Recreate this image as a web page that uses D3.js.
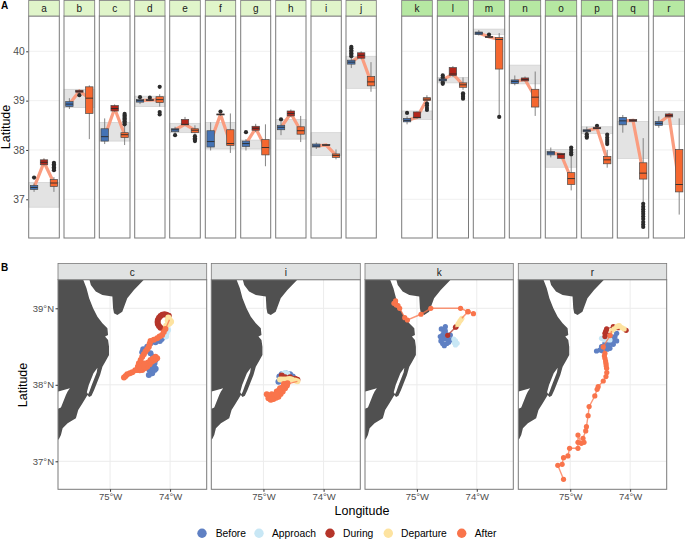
<!DOCTYPE html>
<html><head><meta charset="utf-8">
<script src="https://cdnjs.cloudflare.com/ajax/libs/d3/7.8.5/d3.min.js"></script>
<style>html,body{margin:0;padding:0;background:#fff}svg{display:block;font-family:"Liberation Sans",Arial,sans-serif}</style>
</head><body><div id="chart"></div>
<script>
// ---------- Panel A data: [whisker low, q1, median, q3, whisker high]
const stations=["a","b","c","d","e","f","g","h","i","j","k","l","m","n","o","p","q","r"];
const bandLow=[36.84,38.86,38.18,38.88,38.35,38.02,38.02,38.22,37.89,39.25,38.62,39.36,40.34,39.34,37.65,38.33,37.83,38.52];
const bandHigh=[37.34,39.23,38.56,39.09,38.54,38.56,38.2,38.62,38.35,39.9,38.79,39.47,40.45,39.72,38.01,38.47,38.58,38.78];
const beforeBox=[[37.15,37.2,37.24,37.28,37.32],[38.83,38.88,38.93,38.98,39.05],[38.12,38.18,38.27,38.43,38.64],[38.93,38.97,39,39.02,39.06],[38.34,38.37,38.41,38.43,38.47],[37.99,38.06,38.17,38.39,38.56],[37.99,38.07,38.13,38.18,38.22],[38.3,38.41,38.46,38.5,38.57],[38.02,38.06,38.08,38.12,38.15],[39.66,39.74,39.78,39.82,39.88],[38.52,38.57,38.6,38.64,38.68],[39.34,39.4,39.42,39.44,39.49],[40.32,40.34,40.37,40.39,40.43],[39.31,39.35,39.39,39.42,39.51],[37.85,37.9,37.94,37.97,38.05],[38.33,38.37,38.39,38.41,38.47],[38.35,38.51,38.59,38.66,38.71],[38.45,38.5,38.54,38.58,38.68]];
const duringBox=[[37.69,37.7,37.75,37.8,37.83],[39.16,39.17,39.19,39.21,39.22],[38.77,38.79,38.84,38.9,38.92],[38.99,39,39.01,39.02,39.03],[38.5,38.51,38.52,38.62,38.67],[38.69,38.71,38.72,38.73,38.74],[38.36,38.4,38.44,38.48,38.53],[38.67,38.69,38.74,38.79,38.82],[38.08,38.09,38.1,38.11,38.12],[39.84,39.86,39.92,39.97,40],[38.64,38.65,38.66,38.77,38.78],[39.48,39.51,39.54,39.67,39.7],[40.27,40.28,40.29,40.3,40.31],[39.39,39.4,39.43,39.46,39.49],[37.82,37.83,37.91,37.93,37.94],[38.42,38.43,38.44,38.46,38.47],[38.57,38.58,38.6,38.62,38.63],[38.66,38.67,38.7,38.73,38.75]];
const afterBox=[[37.15,37.26,37.33,37.4,37.45],[38.22,38.74,39.05,39.28,39.31],[38.1,38.25,38.31,38.35,38.5],[38.88,38.96,39.02,39.08,39.13],[38.33,38.35,38.4,38.43,38.5],[37.94,38.09,38.13,38.41,38.74],[37.67,37.9,38.05,38.21,38.52],[38.16,38.32,38.39,38.47,38.69],[37.81,37.85,37.89,37.92,38.01],[39.18,39.3,39.38,39.49,39.78],[38.96,39,39.03,39.06,39.11],[39.22,39.27,39.32,39.36,39.47],[38.67,39.64,40.24,40.28,40.37],[38.69,38.87,39.07,39.23,39.59],[37.18,37.3,37.42,37.54,37.87],[37.64,37.72,37.8,37.87,38],[36.94,37.41,37.53,37.74,38.24],[36.69,37.15,37.3,38.01,38.64]];
const beforeOut=[[37.44],[],[],[39.07],[38.3],[],[38.36],[38.62],[],[39.9,39.93,39.96,39.99,40.02,40.06,40.09],[38.75],[39.34,39.37,39.42,39.47,39.51],[],[],[],[38.25,38.28,38.32],[],[]];
const duringOut=[[],[39.11],[],[39.06],[],[38.78],[],[],[],[],[],[],[40.34],[],[],[38.49],[],[]];
const afterOut=[[37.59,37.62,37.65,37.68,37.71,37.74],[],[38.52,38.55,38.58,38.61,38.64,38.67,38.7,38.73],[39.28,38.72,38.77],[38.18,38.21,38.24,38.28],[],[],[],[],[],[38.81,38.85,38.9,38.94],[39.04,39.08,39.12,39.15],[38.67],[],[37.91,37.95,38,38.05],[38.12,38.16,38.2,38.25,38.31],[36.44,36.49,36.54,36.6,36.65,36.7,36.75,36.8,36.85,36.91],[]];
const latTicks=[37,38,39,40];
// panel edges of the strip row, read in page pixels
const panelLeft=[28.7,64,99.3,134.7,169.7,205.3,240.7,275.7,311,346,401.7,437.3,473.3,509.3,545.3,581.3,617.3,653.3];
const panelRight=[59.3,94.7,130,165,200.3,235.7,270.7,306,341.3,376.3,432.3,468.5,504.7,540.7,576.7,612.7,648.7,684.7];
const phasesA=["Before","During","After"];
const colorsA=["#4473b5","#b3261b","#f5672f"];

// ---------- Panel B data: lon / lat
const mapNames=["c","i","k","r"];
const mapLeft=[58,211.3,365,518.3];
const mapRight=[206.7,360.3,513.3,666.7];
const lonTicks=[-75,-74];
const mapLatTicks=[37,38,39];
const landMain=[[-75.47,39.42],[-75.392,39.261],[-75.348,39.131],[-75.282,39],[-75.21,38.891],[-75.127,38.804],[-75.044,38.739],[-75.033,38.651],[-75.083,38.63],[-75.033,38.586],[-75.017,38.499],[-75.017,38.39],[-75.072,38.312],[-75.127,38.237],[-75.166,38.129],[-75.265,37.932],[-75.309,37.858],[-75.348,37.841],[-75.376,37.867],[-75.459,37.758],[-75.53,37.671],[-75.569,37.562],[-75.707,37.497],[-75.79,37.431],[-75.818,37.344],[-75.851,37.292],[-76,37.2],[-76,39.45],[-75.47,39.45]];
const landNorth=[[-75.365,39.436],[-75.32,39.305],[-75.238,39.218],[-75.127,39.174],[-74.961,39.153],[-74.95,39],[-74.934,38.935],[-74.878,38.913],[-74.796,38.956],[-74.713,39.131],[-74.602,39.24],[-74.425,39.383],[-74.381,39.436]];
const waterSliver=[[-75.21,38.224],[-75.221,38.163],[-75.309,37.989],[-75.343,37.911],[-75.365,37.876],[-75.387,37.902],[-75.354,37.998],[-75.276,38.15]];
const waterBay=[[-75.95,37.911],[-75.862,37.911],[-75.669,37.954],[-75.707,37.911],[-75.735,37.867],[-75.818,37.702],[-75.873,37.684],[-75.95,37.684]];
const phases=["Before","Approach","During","Departure","After"];
const phaseColors=["#5f80c3","#c8e7f5","#b5352a","#fde3a0","#f9744b"];
const legendDotX=[202,259,330,388.3,461.7];
const legendTextX=[215.7,272,343,401,474.7];
const trackC=[
 [[-74.105,38.63],[-74.14,38.6],[-74.171,38.573],[-74.243,38.556],[-74.326,38.542],[-74.381,38.499],[-74.448,38.464],[-74.464,38.425],[-74.43,38.44],[-74.392,38.455],[-74.326,38.412],[-74.282,38.368],[-74.243,38.325],[-74.26,38.28],[-74.282,38.237],[-74.24,38.21],[-74.26,38.194],[-74.298,38.15],[-74.354,38.129],[-74.343,38.194],[-74.3,38.21],[-74.381,38.259],[-74.33,38.27]],
 [[-74.077,38.651],[-74.05,38.704],[-74.066,38.63],[-74.033,38.717],[-74.06,38.67]],
 [[-74.022,38.904],[-74.06,38.915],[-74.094,38.922],[-74.13,38.915],[-74.16,38.9],[-74.185,38.875],[-74.204,38.847],[-74.208,38.82],[-74.204,38.795],[-74.185,38.77],[-74.16,38.747],[-74.105,38.73]],
 [[-74.022,38.869],[-73.994,38.834],[-74.033,38.791],[-74.006,38.804],[-74.066,38.773],[-73.983,38.825],[-74.04,38.84],[-74.03,38.88],[-74.01,38.85]],
 [[-74.077,38.73],[-74.105,38.69],[-74.133,38.651],[-74.175,38.63],[-74.215,38.608],[-74.27,38.59],[-74.326,38.573],[-74.34,38.535],[-74.354,38.499],[-74.38,38.465],[-74.409,38.434],[-74.437,38.4],[-74.464,38.368],[-74.49,38.325],[-74.519,38.281],[-74.535,38.24],[-74.547,38.194],[-74.505,38.19],[-74.464,38.194],[-74.42,38.215],[-74.381,38.237],[-74.34,38.27],[-74.298,38.303],[-74.255,38.325],[-74.215,38.346],[-74.243,38.368],[-74.285,38.345],[-74.326,38.325],[-74.365,38.29],[-74.409,38.259],[-74.45,38.27],[-74.492,38.281],[-74.46,38.24],[-74.42,38.28],[-74.53,38.23],[-74.58,38.19],[-74.63,38.163],[-74.67,38.15],[-74.713,38.137],[-74.74,38.115],[-74.768,38.094]]
];
const trackI=[
 [[-74.751,38.041],[-74.735,38.107],[-74.696,38.137],[-74.63,38.15],[-74.558,38.137],[-74.514,38.107]],
 [[-74.641,38.155],[-74.602,38.14],[-74.669,38.14]],
 [[-74.696,38.12],[-74.641,38.1],[-74.558,38.1],[-74.475,38.08],[-74.436,38.065]],
 [[-74.724,38.07],[-74.69,38.07],[-74.65,38.07],[-74.602,38.072],[-74.565,38.075],[-74.53,38.07],[-74.475,38.055],[-74.436,38.045]],
 [[-74.624,38.007],[-74.669,37.976],[-74.696,37.932],[-74.751,37.889],[-74.807,37.867],[-74.862,37.876],[-74.945,37.876],[-74.917,37.824],[-74.89,37.85],[-74.88,37.805],[-74.834,37.815],[-74.79,37.83],[-74.751,37.845],[-74.715,37.88],[-74.68,37.911],[-74.641,37.954],[-74.61,37.99],[-74.6,38.02],[-74.66,38.01],[-74.724,37.954],[-74.69,37.96],[-74.779,37.911],[-74.74,37.93],[-74.83,37.86],[-74.862,37.845],[-74.78,37.87],[-74.92,37.86],[-74.86,37.81]]
];
const trackK=[
 [[-74.525,38.76],[-74.593,38.73],[-74.56,38.72],[-74.525,38.704],[-74.469,38.651],[-74.61,38.63],[-74.599,38.573],[-74.57,38.54],[-74.542,38.512],[-74.5,38.54],[-74.469,38.556],[-74.412,38.586],[-74.441,38.651],[-74.508,38.608],[-74.565,38.66],[-74.55,38.6],[-74.48,38.6],[-74.53,38.65],[-74.58,38.6]],
 [[-74.356,38.573],[-74.328,38.542],[-74.356,38.521],[-74.384,38.599],[-74.375,38.55]],
 [[-74.486,38.647],[-74.345,38.76],[-74.356,38.752]],
 [[-74.316,38.791],[-74.3,38.81],[-74.282,38.834],[-74.265,38.85],[-74.249,38.869]],
 [[-74.147,38.956],[-74.056,38.93],[-74.147,38.956],[-74.271,39],[-74.768,39],[-74.932,38.922],[-75.158,38.847],[-75.203,38.878],[-75.288,39],[-75.316,39.035],[-75.345,39.044],[-75.384,39.065],[-75.356,39.096]]
];
const trackR=[
 [[-74.225,38.673],[-74.253,38.63],[-74.225,38.573],[-74.281,38.529],[-74.337,38.477],[-74.38,38.465],[-74.421,38.455],[-74.465,38.445],[-74.506,38.455],[-74.562,38.442],[-74.478,38.499],[-74.421,38.542],[-74.337,38.573],[-74.393,38.512],[-74.44,38.5],[-74.3,38.56],[-74.36,38.53],[-74.28,38.6],[-74.4,38.48]],
 [[-74.478,38.608],[-74.421,38.586],[-74.37,38.59],[-74.337,38.586],[-74.449,38.6]],
 [[-74.337,38.651],[-74.421,38.63],[-74.421,38.673],[-74.41,38.69],[-74.404,38.704],[-74.393,38.73],[-74.281,38.76],[-74.197,38.747],[-74.067,38.712]],
 [[-74.101,38.73],[-74.14,38.747],[-74.18,38.773],[-74.2,38.77],[-74.225,38.76],[-74.27,38.73],[-74.309,38.704]],
 [[-74.337,38.643],[-74.449,38.495],[-74.421,38.412],[-74.43,38.38],[-74.421,38.346],[-74.41,38.31],[-74.404,38.281],[-74.4,38.25],[-74.393,38.216],[-74.39,38.16],[-74.404,38.107],[-74.449,38.05],[-74.534,37.976],[-74.551,37.941],[-74.59,37.854],[-74.685,37.715],[-74.702,37.597],[-74.73,37.453],[-74.742,37.397],[-74.787,37.301],[-74.77,37.248],[-74.815,37.235],[-74.871,37.344],[-74.871,37.248],[-74.871,37.17],[-75.011,37.17],[-75.039,37.07],[-75.112,37.048],[-75.135,36.961],[-75.208,36.948],[-75.112,36.765]]
];
const tracks=[trackC,trackI,trackK,trackR];

// ---------- drawing
const svg=d3.select("#chart").append("svg").attr("width",685).attr("height",539);
const stripTop=0.5,stripBottom=16,panelBottom=238;
const yA=d3.scaleLinear().domain([37,40]).range([199.3,51.3]);
const axisCol="#4d4d4d",borderCol="#7a7a7a",gridCol="#ececec";

svg.append("text").text("A").attr("x",1).attr("y",9).attr("font-weight","bold").attr("font-size",10).attr("fill","#000");
svg.append("text").text("B").attr("x",1).attr("y",270.5).attr("font-weight","bold").attr("font-size",10).attr("fill","#000");

const axA=svg.append("g").attr("transform",`translate(${panelLeft[0]},0)`).call(d3.axisLeft(yA).tickValues(latTicks).tickSize(2.5).tickPadding(1.5).tickFormat(d3.format("d")));
axA.select(".domain").remove();
axA.selectAll("line").attr("stroke","#333");
axA.selectAll("text").attr("font-size",10.3).attr("fill",axisCol).attr("font-family","Liberation Sans");
svg.append("text").text("Latitude").attr("transform","translate(6.5,127) rotate(-90)").attr("text-anchor","middle").attr("font-size",12.5).attr("dominant-baseline","middle").attr("fill","#000");

stations.forEach((name,i)=>{
  const L=panelLeft[i],R=panelRight[i],W=R-L;
  const g=svg.append("g");
  g.append("rect").attr("x",L).attr("y",stripBottom).attr("width",W).attr("height",panelBottom-stripBottom).attr("fill","#fff");
  g.selectAll("line.grid").data(latTicks).join("line").attr("x1",L).attr("x2",R).attr("y1",yA).attr("y2",yA).attr("stroke",gridCol).attr("stroke-width",.8);
  g.append("rect").attr("x",L).attr("width",W).attr("y",yA(bandHigh[i])).attr("height",yA(bandLow[i])-yA(bandHigh[i])).attr("fill","#e3e3e3").attr("stroke","#cfcfcf").attr("stroke-width",.7);
  const x=d3.scalePoint().domain(phasesA).range([L,R]).padding(.54);
  const boxes=[beforeBox[i],duringBox[i],afterBox[i]];
  const outs=[beforeOut[i],duringOut[i],afterOut[i]];
  g.append("path").datum(phasesA.map((p,k)=>[x(p),yA(boxes[k][2])])).attr("d",d3.line()).attr("fill","none").attr("stroke","#fa9d80").attr("stroke-width",3.2);
  phasesA.forEach((p,k)=>{
    const b=boxes[k],cx=x(p),bw=7.4;
    g.append("line").attr("x1",cx).attr("x2",cx).attr("y1",yA(b[0])).attr("y2",yA(b[4])).attr("stroke","#777").attr("stroke-width",.9);
    g.selectAll(null).data(outs[k]).join("circle").attr("cx",cx).attr("cy",d=>yA(d)).attr("r",2.1).attr("fill","#2b2b2b");
    g.append("rect").attr("x",cx-bw/2).attr("width",bw).attr("y",yA(b[3])).attr("height",Math.max(1,yA(b[1])-yA(b[3]))).attr("fill",colorsA[k]).attr("stroke","#4a4a4a").attr("stroke-width",.7);
    g.append("line").attr("x1",cx-bw/2).attr("x2",cx+bw/2).attr("y1",yA(b[2])).attr("y2",yA(b[2])).attr("stroke","#2b2b2b").attr("stroke-width",.9);
  });
  g.append("rect").attr("x",L).attr("y",stripBottom).attr("width",W).attr("height",panelBottom-stripBottom).attr("fill","none").attr("stroke",borderCol).attr("stroke-width",1);
  g.append("rect").attr("x",L).attr("y",stripTop).attr("width",W).attr("height",stripBottom-stripTop).attr("fill",i<10?"#e0f5ca":"#b6e8a2").attr("stroke",borderCol).attr("stroke-width",.8);
  g.append("text").text(name).attr("x",(L+R)/2).attr("y",12).attr("text-anchor","middle").attr("font-size",10).attr("fill","#1a1a1a");
});

// Panel B
const mapTop=279.7,mapBottom=489.3,mapStripTop=263.5;
const yB=d3.scaleLinear().domain([37,39]).range([461.3,308.3]);
const defs=svg.append("defs");
const fmtLon=d=>Math.abs(d)+"°W",fmtLat=d=>d+"°N";
mapNames.forEach((name,i)=>{
  const L=mapLeft[i],R=mapRight[i];
  const x=d3.scaleLinear().domain([-75.867,-73.39]).range([L,R]);
  const dot=i<2?3:2.6;
  const g=svg.append("g");
  defs.append("clipPath").attr("id","clip"+i).append("rect").attr("x",L).attr("y",mapTop).attr("width",R-L).attr("height",mapBottom-mapTop);
  const c=g.append("g").attr("clip-path",`url(#clip${i})`);
  c.selectAll("line.gy").data(mapLatTicks).join("line").attr("x1",L).attr("x2",R).attr("y1",yB).attr("y2",yB).attr("stroke",gridCol).attr("stroke-width",1);
  c.selectAll("line.gx").data(lonTicks).join("line").attr("x1",d=>x(d)).attr("x2",d=>x(d)).attr("y1",mapTop).attr("y2",mapBottom).attr("stroke",gridCol).attr("stroke-width",1);
  const ln=d3.line().x(d=>x(d[0])).y(d=>yB(d[1]));
  const poly=p=>ln(p)+"Z";
  c.append("path").attr("d",poly(landMain)).attr("fill","#505050");
  c.append("path").attr("d",poly(landNorth)).attr("fill","#505050");
  c.append("path").attr("d",poly(waterSliver)).attr("fill","#fff");
  c.append("path").attr("d",poly(waterBay)).attr("fill","#fff");
  tracks[i].forEach((pts,k)=>{
    const prev=k>=3?tracks[i][k-1].slice(-1):[];
    c.append("path").attr("d",ln(prev.concat(pts))).attr("fill","none").attr("stroke",phaseColors[k]).attr("stroke-width",1.4).attr("stroke-opacity",.75);
    c.selectAll(null).data(pts).join("circle").attr("cx",d=>x(d[0])).attr("cy",d=>yB(d[1])).attr("r",dot).attr("fill",phaseColors[k]);
  });
  g.append("rect").attr("x",L).attr("y",mapTop).attr("width",R-L).attr("height",mapBottom-mapTop).attr("fill","none").attr("stroke",borderCol).attr("stroke-width",1);
  g.append("rect").attr("x",L).attr("y",mapStripTop).attr("width",R-L).attr("height",mapTop-mapStripTop).attr("fill","#e0e2e2").attr("stroke",borderCol).attr("stroke-width",.8);
  g.append("text").text(name).attr("x",(L+R)/2).attr("y",275.5).attr("text-anchor","middle").attr("font-size",10).attr("fill","#1a1a1a");
  const ax=g.append("g").attr("transform",`translate(0,${mapBottom})`).call(d3.axisBottom(x).tickValues(lonTicks).tickSize(2.5).tickPadding(1.5).tickFormat(fmtLon));
  ax.select(".domain").remove();
  ax.selectAll("line").attr("stroke","#333");
  ax.selectAll("text").attr("font-size",9.5).attr("fill",axisCol).attr("font-family","Liberation Sans");
});
const axB=svg.append("g").attr("transform",`translate(${mapLeft[0]},0)`).call(d3.axisLeft(yB).tickValues(mapLatTicks).tickSize(2.5).tickPadding(1.5).tickFormat(fmtLat));
axB.select(".domain").remove();
axB.selectAll("line").attr("stroke","#333");
axB.selectAll("text").attr("font-size",9.5).attr("fill",axisCol).attr("font-family","Liberation Sans");
svg.append("text").text("Latitude").attr("transform","translate(23.5,385) rotate(-90)").attr("text-anchor","middle").attr("dominant-baseline","middle").attr("font-size",12.5).attr("fill","#000");
svg.append("text").text("Longitude").attr("x",362).attr("y",515).attr("text-anchor","middle").attr("font-size",12.5).attr("fill","#000");
phases.forEach((p,k)=>{
  svg.append("circle").attr("cx",legendDotX[k]).attr("cy",533.3).attr("r",4.7).attr("fill",phaseColors[k]);
  svg.append("text").text(p).attr("x",legendTextX[k]).attr("y",536.8).attr("font-size",10.3).attr("fill","#000");
});
</script></body></html>
